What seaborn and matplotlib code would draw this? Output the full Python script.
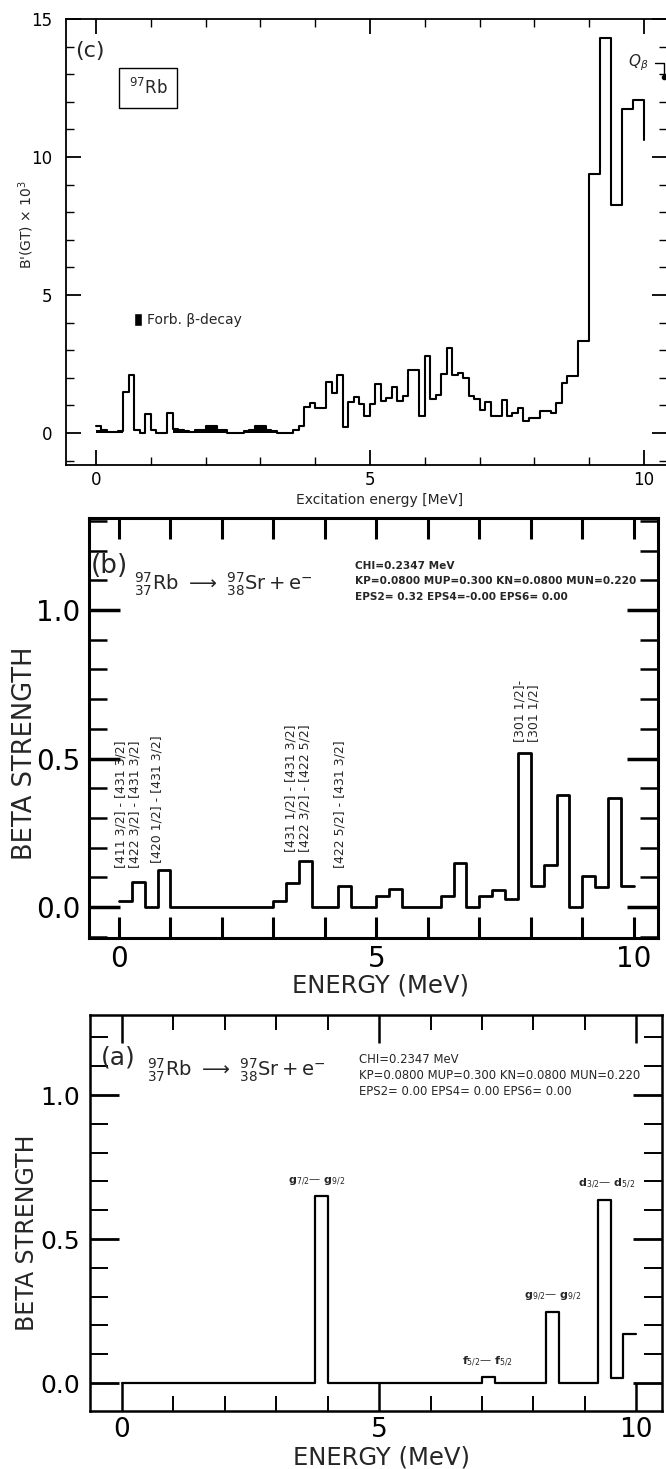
import numpy as np
import pandas as pd
import matplotlib
matplotlib.use("Agg")
import matplotlib.pyplot as plt
import seaborn as sns
from matplotlib.ticker import MultipleLocator, FormatStrFormatter
from matplotlib.patches import Patch

# ---------------- data ----------------
# panel (c): measured B'(GT) x 10^3, 0.1 MeV bins (left edges)
energy_c = np.round(np.arange(0.0, 10.0, 0.1), 1)
bgt_c = [0.25, 0.12, 0.02, 0.05, 0.08, 1.50, 2.10, 0.10, 0.00, 0.70,
         0.10, 0.00, 0.00, 0.72, 0.15, 0.12, 0.08, 0.05, 0.10, 0.10,
         0.27, 0.27, 0.10, 0.10, 0.00, 0.00, 0.00, 0.08, 0.10, 0.25,
         0.25, 0.12, 0.08, 0.00, 0.00, 0.00, 0.10, 0.25, 0.95, 1.10,
         0.90, 0.90, 1.86, 1.46, 2.10, 0.20, 1.13, 1.31, 1.05, 0.60,
         1.05, 1.78, 1.17, 1.25, 1.65, 1.17, 1.34, 2.28, 2.28, 0.60,
         2.79, 1.22, 1.38, 2.14, 3.07, 2.10, 2.16, 2.00, 1.35, 1.23,
         0.83, 1.13, 0.60, 0.60, 1.20, 0.60, 0.73, 0.90, 0.43, 0.55,
         0.55, 0.79, 0.79, 0.73, 1.10, 1.80, 2.05, 2.05, 3.35, 3.35,
         9.40, 9.40, 14.30, 14.30, 8.25, 8.25, 11.75, 11.75, 12.05, 12.05]
forb_c = [0.10, 0.12, 0.02, 0.05, 0.08, 0, 0, 0, 0, 0,
          0, 0, 0, 0, 0.15, 0.12, 0.08, 0.05, 0.10, 0.10,
          0.27, 0.27, 0.10, 0.10, 0, 0, 0, 0.08, 0.10, 0.25,
          0.25, 0.12, 0.08, 0, 0, 0, 0, 0, 0, 0,
          0, 0, 0, 0, 0, 0, 0, 0, 0, 0,
          0, 0, 0, 0, 0, 0, 0, 0, 0, 0,
          0, 0, 0, 0, 0, 0, 0, 0, 0, 0,
          0, 0, 0, 0, 0, 0, 0, 0, 0, 0,
          0, 0, 0, 0, 0, 0, 0, 0, 0, 0,
          0, 0, 0, 0, 0, 0, 0, 0, 0, 0]
end_c = 10.6          # where the measured histogram line stops at 10 MeV
qbeta_point = (10.36, 12.9)

# panels (a) and (b): calculated beta strength, 0.25 MeV bins (left edges)
energy_ab = np.arange(0.0, 10.0, 0.25)
beta_b = [0.020, 0.083, 0.000, 0.126, 0, 0, 0, 0, 0, 0, 0, 0,
          0.020, 0.080, 0.156, 0, 0, 0.072, 0, 0, 0.036, 0.061, 0, 0, 0,
          0.039, 0.147, 0, 0.036, 0.059, 0.028, 0.520, 0.072, 0.141, 0.376,
          0, 0.106, 0.067, 0.369, 0.072]
beta_a = [0, 0, 0, 0, 0, 0, 0, 0, 0, 0, 0, 0, 0, 0, 0, 0.648,
          0, 0, 0, 0, 0, 0, 0, 0, 0, 0, 0, 0, 0.021, 0, 0, 0, 0,
          0.246, 0, 0, 0, 0.636, 0.018, 0.169]

# ---------------- style ----------------
sns.set_theme(style="ticks")
plt.rcParams["font.family"] = ["DejaVu Sans"]
plt.rcParams["mathtext.fontset"] = "dejavusans"

W, H = 666, 1469
fig = plt.figure(figsize=(W / 100, H / 100), dpi=100)
fig.patch.set_facecolor("white")


def frac(left, right, top, bottom):
    return [left / W, 1 - bottom / H, (right - left) / W, (bottom - top) / H]


def step_line(ax, edges, vals, end_x, end_y, lw):
    df = pd.DataFrame({"E": list(edges) + [end_x], "S": list(vals) + [end_y]})
    sns.lineplot(data=df, x="E", y="S", drawstyle="steps-post", estimator=None,
                 sort=False, color="black", lw=lw, ax=ax)


def frame(ax, lw):
    ax.set_facecolor("white")
    for s in ax.spines.values():
        s.set_visible(True)
        s.set_linewidth(lw)
        s.set_color("black")


# ================= panel (c) =================
axc = fig.add_axes(frac(66, 667, 19, 465))
frame(axc, 1.3)
forb_df = pd.DataFrame({"E": energy_c + 0.05, "w": forb_c})
sns.histplot(data=forb_df, x="E", weights="w", binwidth=0.1, binrange=(0.0, 10.0),
             element="step", fill=True, color="black", alpha=1, linewidth=0, ax=axc)
step_line(axc, energy_c, bgt_c, 10.0, end_c, 1.5)
axc.set_xlim(-0.547, 10.42)
axc.set_ylim(-1.16, 15)
axc.xaxis.set_major_locator(MultipleLocator(5))
axc.xaxis.set_minor_locator(MultipleLocator(1))
axc.yaxis.set_major_locator(MultipleLocator(5))
axc.yaxis.set_minor_locator(MultipleLocator(1))
axc.tick_params(which="both", direction="in", top=True, right=True, colors="black")
axc.tick_params(which="major", length=11, width=1.3, labelsize=12)
axc.tick_params(which="minor", length=6, width=1.0)
axc.tick_params(axis="y", pad=10)
axc.tick_params(axis="x", pad=4)
axc.set_xlabel("Excitation energy [MeV]", fontsize=10)
axc.xaxis.set_label_coords(0.522, -0.063)
axc.set_ylabel("B'(GT) × 10$^3$", fontsize=10)
axc.yaxis.set_label_coords(-0.05, 0.54)
axc.text(-0.11, 13.85, "(c)", fontsize=16, ha="center", va="center")
axc.text(0.95, 12.5, "$^{97}$Rb", fontsize=12, ha="center", va="center",
         bbox=dict(boxstyle="square,pad=0.6", fc="white", ec="black", lw=1.0))
axc.legend(handles=[Patch(facecolor="black", label="Forb. β-decay")],
           loc="center left", bbox_to_anchor=(0.113, 0.325), frameon=False,
           handlelength=0.6, handleheight=1.0, handletextpad=0.35,
           borderpad=0, borderaxespad=0, fontsize=10)
axc.annotate(r"$Q_\beta$", xy=qbeta_point, xytext=(9.71, 13.4), fontsize=11,
             ha="left", va="center", annotation_clip=False,
             arrowprops=dict(arrowstyle="-", color="black", lw=1.0,
                             connectionstyle="angle,angleA=0,angleB=90,rad=0",
                             shrinkA=2, shrinkB=0))
axc.plot([qbeta_point[0]], [qbeta_point[1]], "o", color="black", ms=3, clip_on=False)

# ================= panel (b) =================
axb = fig.add_axes(frac(89, 658, 518, 938))
frame(axb, 2.2)
step_line(axb, energy_ab, beta_b, 10.0, beta_b[-1], 2.0)
axb.set_xlim(-0.583, 10.47)
axb.set_ylim(-0.104, 1.31)
axb.xaxis.set_major_locator(MultipleLocator(5))
axb.xaxis.set_minor_locator(MultipleLocator(1))
axb.yaxis.set_major_locator(MultipleLocator(0.5))
axb.yaxis.set_minor_locator(MultipleLocator(0.1))
axb.yaxis.set_major_formatter(FormatStrFormatter("%.1f"))
axb.tick_params(which="both", direction="in", top=True, right=True, colors="black")
axb.tick_params(axis="x", which="both", length=15, width=2.2, labelsize=20, pad=5)
axb.tick_params(axis="y", which="major", length=22, width=2.5, labelsize=20, pad=6)
axb.tick_params(axis="y", which="minor", length=13, width=1.8)
axb.set_xlabel("ENERGY (MeV)", fontsize=17.5)
axb.xaxis.set_label_coords(0.513, -0.085)
axb.set_ylabel("BETA STRENGTH", fontsize=18.5)
axb.yaxis.set_label_coords(-0.09, 0.44)
axb.text(-0.19, 1.148, "(b)", fontsize=19, ha="center", va="center")
axb.text(0.3, 1.088, r"${}^{97}_{37}\mathrm{Rb}\ \longrightarrow\ {}^{97}_{38}\mathrm{Sr}+\mathrm{e}^{-}$",
         fontsize=14, ha="left", va="center")
for i, line in enumerate(["CHI=0.2347 MeV",
                          "KP=0.0800 MUP=0.300 KN=0.0800 MUN=0.220",
                          "EPS2= 0.32 EPS4=-0.00 EPS6= 0.00"]):
    axb.text(4.58, 1.15 - i * 0.053, line, fontsize=7.6, fontweight="bold",
             ha="left", va="center")
labels_b = [("[411 3/2] - [431 3/2]\n[422 3/2] - [431 3/2]", 0.17, 0.13),
            ("[420 1/2] - [431 3/2]", 0.74, 0.148),
            ("[431 1/2] - [431 3/2]\n[422 3/2] - [422 5/2]", 3.48, 0.185),
            ("[422 5/2] - [431 3/2]", 4.29, 0.13),
            ("[301 1/2]-\n[301 1/2]", 7.92, 0.556)]
for txt, x, y in labels_b:
    axb.text(x, y, txt, rotation=90, fontsize=9, ha="center", va="bottom",
             linespacing=1.1, multialignment="left")

# ================= panel (a) =================
axa = fig.add_axes(frac(90, 662, 1015, 1411))
frame(axa, 1.8)
step_line(axa, energy_ab, beta_a, 10.0, beta_a[-1], 1.6)
axa.set_xlim(-0.62, 10.5)
axa.set_ylim(-0.097, 1.278)
axa.xaxis.set_major_locator(MultipleLocator(5))
axa.xaxis.set_minor_locator(MultipleLocator(1))
axa.yaxis.set_major_locator(MultipleLocator(0.5))
axa.yaxis.set_minor_locator(MultipleLocator(0.1))
axa.yaxis.set_major_formatter(FormatStrFormatter("%.1f"))
axa.tick_params(which="both", direction="in", top=True, right=True, colors="black")
axa.tick_params(axis="x", which="major", length=20, width=1.8, labelsize=19, pad=4)
axa.tick_params(axis="x", which="minor", length=11, width=1.4)
axa.tick_params(axis="y", which="major", length=21, width=2.0, labelsize=18, pad=7)
axa.tick_params(axis="y", which="minor", length=13, width=1.4)
axa.set_xlabel("ENERGY (MeV)", fontsize=17.5)
axa.xaxis.set_label_coords(0.51, -0.086)
axa.set_ylabel("BETA STRENGTH", fontsize=17)
axa.yaxis.set_label_coords(-0.09, 0.45)
axa.text(-0.08, 1.13, "(a)", fontsize=18, ha="center", va="center")
axa.text(0.49, 1.087, r"${}^{97}_{37}\mathrm{Rb}\ \longrightarrow\ {}^{97}_{38}\mathrm{Sr}+\mathrm{e}^{-}$",
         fontsize=14, ha="left", va="center")
for i, line in enumerate(["CHI=0.2347 MeV",
                          "KP=0.0800 MUP=0.300 KN=0.0800 MUN=0.220",
                          "EPS2= 0.00 EPS4= 0.00 EPS6= 0.00"]):
    axa.text(4.61, 1.125 - i * 0.056, line, fontsize=8.4,
             ha="left", va="center")
labels_a = [(r"g$_{7/2}$— g$_{9/2}$", 3.79, 0.70),
            (r"f$_{5/2}$— f$_{5/2}$", 7.10, 0.073),
            (r"g$_{9/2}$— g$_{9/2}$", 8.37, 0.30),
            (r"d$_{3/2}$— d$_{5/2}$", 9.42, 0.69)]
for txt, x, y in labels_a:
    axa.text(x, y, txt, fontsize=8, fontweight="bold", ha="center", va="center")

fig.savefig("out.png", dpi=100, facecolor="white")
